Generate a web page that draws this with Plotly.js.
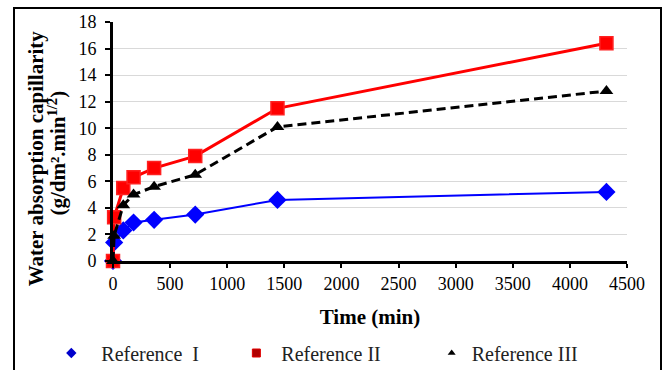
<!DOCTYPE html>
<html>
<head>
<meta charset="utf-8">
<script src="https://cdn.plot.ly/plotly-3.0.1.min.js"></script>
<style>
  html, body { margin: 0; padding: 0; background: #fff; }
  #wrap { position: relative; width: 668px; height: 370px; overflow: hidden; }
  #chart { position: absolute; left: 0; top: 0; width: 668px; height: 370px; }
  #frame { position: absolute; left: 13px; top: 7px; width: 649px; height: 420px;
           border: 2px solid #000; box-sizing: border-box; pointer-events: none; }
</style>
</head>
<body>
<div id="wrap">
  <div id="chart"></div>
  <div id="frame"></div>
</div>
<script>
// Data
const timeMin = [0, 10, 90, 180, 360, 720, 1440, 4320];
const refI   = [0, 1.4, 2.3, 2.9, 3.1, 3.5, 4.6, 5.2];
const refII  = [0, 3.3, 5.5, 6.3, 7.0, 7.9, 11.5, 16.4];
const refIII = [0, 1.9, 4.2, 5.0, 5.6, 6.5, 10.1, 12.8];
const seriesNames = ['\u00a0\u00a0Reference\u00a0\u00a0I', '\u00a0Reference II', 'Reference III'];
const xTicks = [0, 500, 1000, 1500, 2000, 2500, 3000, 3500, 4000, 4500];
const yTicks = [0, 2, 4, 6, 8, 10, 12, 14, 16, 18];
const yTitleLines = ['Water absorption capillarity', '(g/dm².min<sup>1/2</sup>)'];

const serif = 'Liberation Serif';

const traces = [
  { x: timeMin, y: refI, mode: 'lines+markers', showlegend: false, cliponaxis: false,
    line: { color: '#0000ff', width: 2 },
    marker: { symbol: 'diamond', size: 14, color: '#0000ff' } },
  { x: timeMin, y: refII, mode: 'lines+markers', showlegend: false, cliponaxis: false,
    line: { color: '#ff0000', width: 3 },
    marker: { symbol: 'square', size: 13, color: '#ff0000', line: { color: '#ff2020', width: 1.5 } } },
  { x: timeMin, y: refIII, mode: 'lines+markers', showlegend: false, cliponaxis: false,
    line: { color: '#000000', width: 3, dash: '9px,5px' },
    marker: { symbol: 'triangle-up', size: 12, color: '#000000' } },
  // legend entries (marker only, as in the reference legend)
  { x: [null], y: [null], mode: 'markers', name: seriesNames[0], legend: 'legend',
    marker: { symbol: 'diamond', size: 8, color: '#0000cc' } },
  { x: [null], y: [null], mode: 'markers', name: seriesNames[1], legend: 'legend2',
    marker: { symbol: 'square', size: 8, color: '#b00000', line: { color: '#e00000', width: 1 } } },
  { x: [null], y: [null], mode: 'markers', name: seriesNames[2], legend: 'legend3',
    marker: { symbol: 'triangle-up', size: 7, color: '#000000' } }
];

const legendBase = {
  orientation: 'h', yanchor: 'middle', xanchor: 'left', y: -0.385,
  font: { family: serif, size: 20, color: '#222' }, bgcolor: 'rgba(0,0,0,0)', borderwidth: 0
};

const layout = {
  width: 668, height: 370,
  margin: { l: 113, r: 41, t: 22, b: 109, autoexpand: false },
  paper_bgcolor: '#ffffff', plot_bgcolor: '#ffffff',
  font: { family: serif },
  hovermode: false,
  xaxis: {
    range: [0, 4500], tickvals: xTicks, ticktext: xTicks.map(String),
    showgrid: false, zeroline: false,
    showline: true, linecolor: '#000', linewidth: 3,
    ticks: 'outside', ticklen: 4, tickwidth: 2, tickcolor: '#000',
    tickfont: { family: serif, size: 18, color: '#000' },
    title: { text: '<b>Time (min)</b>', font: { family: serif, size: 21, color: '#000' }, standoff: 17 }
  },
  yaxis: {
    range: [0, 18], tickvals: yTicks, ticktext: yTicks.map(String),
    showgrid: true, gridcolor: '#d9d9d9', gridwidth: 1, zeroline: false,
    showline: true, linecolor: '#000', linewidth: 3,
    ticks: 'outside', ticklen: 5, tickwidth: 2, tickcolor: '#000',
    ticklabelstandoff: 5,
    tickfont: { family: serif, size: 18, color: '#000' }
  },
  annotations: [
    { text: '<b>' + yTitleLines[0] + '</b>',
      xref: 'paper', yref: 'paper', x: -0.1492, y: 0.431,
      xanchor: 'center', yanchor: 'middle', textangle: -90, showarrow: false,
      font: { family: serif, size: 21, color: '#000' } },
    { text: '<b>' + yTitleLines[1] + '</b>',
      xref: 'paper', yref: 'paper', x: -0.1077, y: 0.452,
      xanchor: 'center', yanchor: 'middle', textangle: -90, showarrow: false,
      font: { family: serif, size: 21, color: '#000' } }
  ],
  legend: Object.assign({}, legendBase, { x: -0.12 }),
  legend2: Object.assign({}, legendBase, { x: 0.24 }),
  legend3: Object.assign({}, legendBase, { x: 0.62 })
};

Plotly.newPlot('chart', traces, layout, { displayModeBar: false, staticPlot: true });
</script>
</body>
</html>
